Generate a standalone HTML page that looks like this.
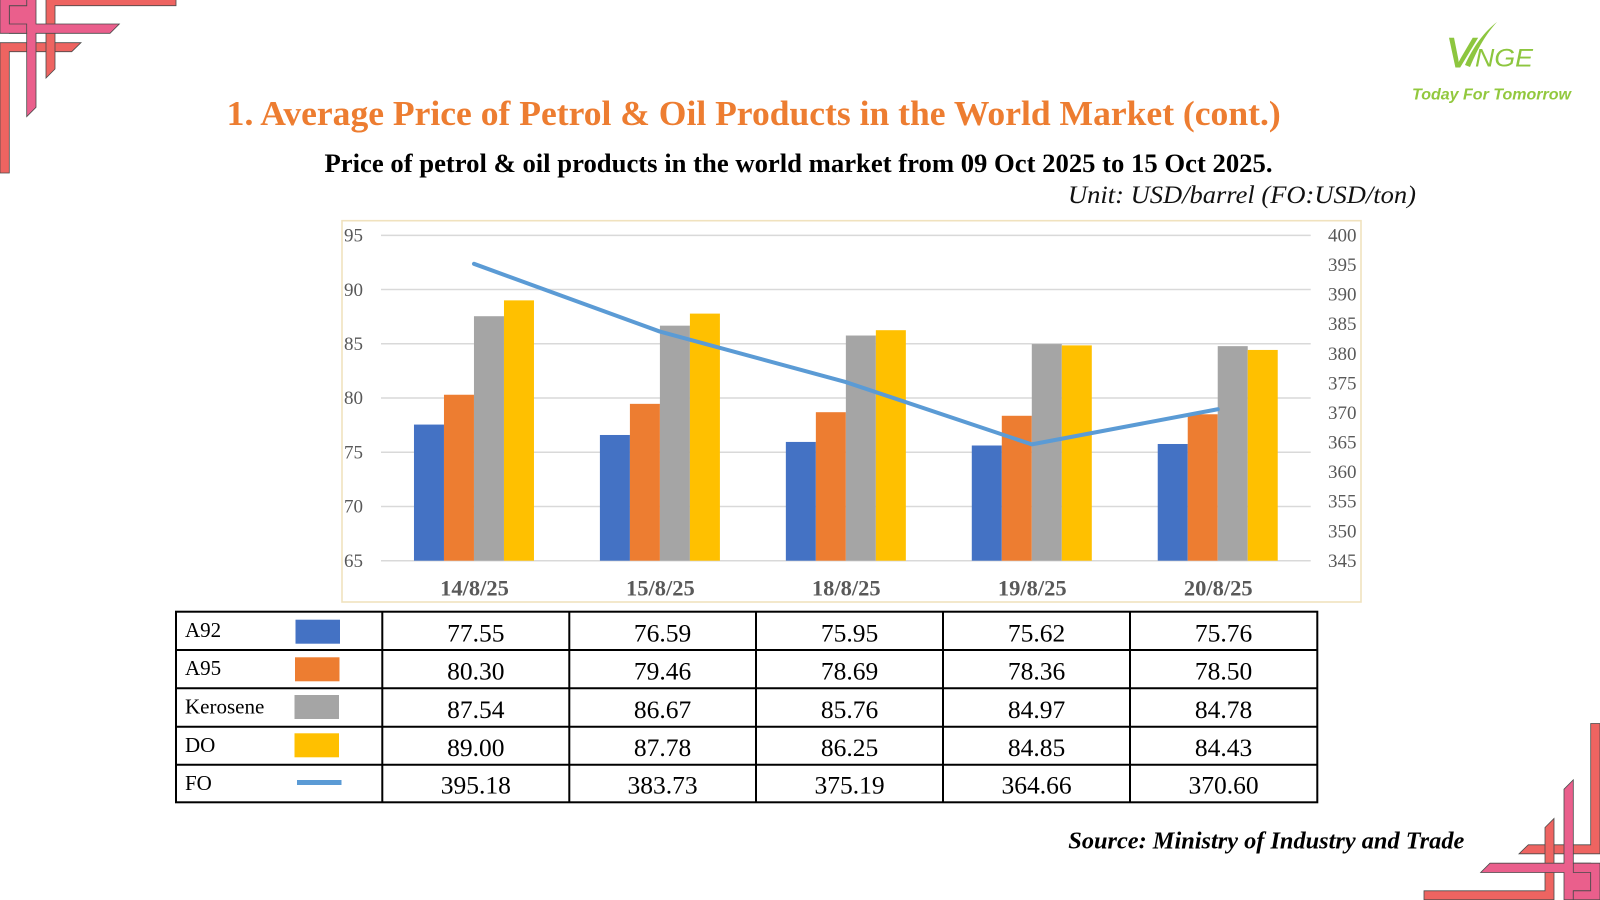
<!DOCTYPE html>
<html>
<head>
<meta charset="utf-8">
<style>
  html, body { margin: 0; padding: 0; background: #ffffff; }
  svg { display: block; }
</style>
</head>
<body>
<svg width="1600" height="900" viewBox="0 0 1600 900" xmlns="http://www.w3.org/2000/svg">
  <rect x="0" y="0" width="1600" height="900" fill="#ffffff"/>

  <!-- Corner ornament (top-left) -->
  <g id="corner" stroke="#4a4a4a" stroke-width="0.8" stroke-linejoin="miter">
    <polygon points="0,42.7 81,42.7 71.7,51.7 9.3,51.7 9.3,173 0,173" fill="#EE6461"/>
    <polygon points="46,-3.3 176,-3.3 176,5.7 55,5.7 55,69 46,78" fill="#EE6461"/>
    <polygon points="26.7,-3.3 36,-3.3 36,24 119.3,24 110,33.3 36,33.3 36,107.3 26.7,116.7 26.7,33.3 9.3,33.3 9.3,5.7 26.7,5.7 26.7,-3.3" fill="#EA5F8C"/>
    <polygon points="0,-3.3 26.7,-3.3 26.7,5.7 9.3,5.7 9.3,24 26.7,24 26.7,33.3 0,33.3" fill="#EA5F8C"/>
  </g>
  <!-- Corner ornament (bottom-right) -->
  <g transform="translate(1600,896.5) rotate(180)" stroke="#4a4a4a" stroke-width="0.8">
    <polygon points="0,42.7 81,42.7 71.7,51.7 9.3,51.7 9.3,173 0,173" fill="#EE6461"/>
    <polygon points="46,-3.3 176,-3.3 176,5.7 55,5.7 55,69 46,78" fill="#EE6461"/>
    <polygon points="26.7,-3.3 36,-3.3 36,24 119.3,24 110,33.3 36,33.3 36,107.3 26.7,116.7 26.7,33.3 9.3,33.3 9.3,5.7 26.7,5.7 26.7,-3.3" fill="#EA5F8C"/>
    <polygon points="0,-3.3 26.7,-3.3 26.7,5.7 9.3,5.7 9.3,24 26.7,24 26.7,33.3 0,33.3" fill="#EA5F8C"/>
  </g>

  <!-- Logo -->
  <path d="M1465,65 C1473,47 1484,32 1497,22 C1486,34 1478,48 1470,67 Z" fill="#8DC63F"/>
  <text x="1446" y="67" font-family="Liberation Sans, sans-serif" font-style="italic" font-size="42" fill="#8DC63F" stroke="#8DC63F" stroke-width="1">V</text>
  <text x="1475" y="66.5" font-family="Liberation Sans, sans-serif" font-style="italic" font-size="25" fill="#8DC63F" textLength="58" lengthAdjust="spacingAndGlyphs">NGE</text>
  <text x="1412" y="99.3" font-family="Liberation Sans, sans-serif" font-style="italic" font-weight="bold" font-size="15.5" fill="#92C83E" textLength="159" lengthAdjust="spacingAndGlyphs">Today For Tomorrow</text>

  <!-- Titles -->
  <text x="226.7" y="125" font-family="Liberation Serif, serif" font-weight="bold" font-size="35.3" fill="#ED7D31" textLength="1054" lengthAdjust="spacingAndGlyphs">1. Average Price of Petrol &amp; Oil Products in the World Market (cont.)</text>
  <text x="324.5" y="172" font-family="Liberation Serif, serif" font-weight="bold" font-size="26.6" fill="#000000" textLength="948" lengthAdjust="spacingAndGlyphs">Price of petrol &amp; oil products in the world market from 09 Oct 2025 to 15 Oct 2025.</text>
  <text x="1068" y="203" font-family="Liberation Serif, serif" font-style="italic" font-size="25" fill="#111111" textLength="348" lengthAdjust="spacingAndGlyphs">Unit: USD/barrel (FO:USD/ton)</text>

  <!-- Chart frame -->
  <rect x="342" y="220.7" width="1019" height="381.3" fill="#ffffff" stroke="#F0E2BE" stroke-width="1.6"/>

  <!-- Gridlines -->
  <g stroke="#D9D9D9" stroke-width="1.5">
    <line x1="381" y1="235.32" x2="1310.7" y2="235.32"/>
    <line x1="381" y1="289.55" x2="1310.7" y2="289.55"/>
    <line x1="381" y1="343.78" x2="1310.7" y2="343.78"/>
    <line x1="381" y1="398.01" x2="1310.7" y2="398.01"/>
    <line x1="381" y1="452.24" x2="1310.7" y2="452.24"/>
    <line x1="381" y1="506.47" x2="1310.7" y2="506.47"/>
    <line x1="381" y1="560.7" x2="1310.7" y2="560.7"/>
  </g>

  <!-- Left axis labels -->
  <g font-family="Liberation Serif, serif" font-size="19" fill="#595959">
    <text x="344" y="241.5">95</text>
    <text x="344" y="295.8">90</text>
    <text x="344" y="350">85</text>
    <text x="344" y="404.2">80</text>
    <text x="344" y="458.5">75</text>
    <text x="344" y="512.7">70</text>
    <text x="344" y="566.9">65</text>
  </g>

  <!-- Right axis labels -->
  <g font-family="Liberation Serif, serif" font-size="19" fill="#595959">
    <text x="1328" y="241.5">400</text>
    <text x="1328" y="271.1">395</text>
    <text x="1328" y="300.7">390</text>
    <text x="1328" y="330.2">385</text>
    <text x="1328" y="359.8">380</text>
    <text x="1328" y="389.4">375</text>
    <text x="1328" y="419">370</text>
    <text x="1328" y="448.6">365</text>
    <text x="1328" y="478.1">360</text>
    <text x="1328" y="507.7">355</text>
    <text x="1328" y="537.3">350</text>
    <text x="1328" y="566.9">345</text>
  </g>

  <!-- Bars -->
  <g>
    <rect x="413.97" y="424.57" width="30" height="136.13" fill="#4472C4"/>
    <rect x="443.97" y="394.74" width="30" height="165.96" fill="#ED7D31"/>
    <rect x="473.97" y="316.21" width="30" height="244.49" fill="#A5A5A5"/>
    <rect x="503.97" y="300.37" width="30" height="260.33" fill="#FFC000"/>

    <rect x="599.91" y="434.98" width="30" height="125.72" fill="#4472C4"/>
    <rect x="629.91" y="403.85" width="30" height="156.85" fill="#ED7D31"/>
    <rect x="659.91" y="325.65" width="30" height="235.05" fill="#A5A5A5"/>
    <rect x="689.91" y="313.61" width="30" height="247.09" fill="#FFC000"/>

    <rect x="785.85" y="441.93" width="30" height="118.77" fill="#4472C4"/>
    <rect x="815.85" y="412.20" width="30" height="148.50" fill="#ED7D31"/>
    <rect x="845.85" y="335.52" width="30" height="225.18" fill="#A5A5A5"/>
    <rect x="875.85" y="330.20" width="30" height="230.50" fill="#FFC000"/>

    <rect x="971.79" y="445.50" width="30" height="115.20" fill="#4472C4"/>
    <rect x="1001.79" y="415.78" width="30" height="144.92" fill="#ED7D31"/>
    <rect x="1031.79" y="344.09" width="30" height="216.61" fill="#A5A5A5"/>
    <rect x="1061.79" y="345.39" width="30" height="215.31" fill="#FFC000"/>

    <rect x="1157.73" y="443.99" width="30" height="116.71" fill="#4472C4"/>
    <rect x="1187.73" y="414.27" width="30" height="146.43" fill="#ED7D31"/>
    <rect x="1217.73" y="346.15" width="30" height="214.55" fill="#A5A5A5"/>
    <rect x="1247.73" y="349.94" width="30" height="210.76" fill="#FFC000"/>
  </g>

  <!-- FO line -->
  <polyline points="473.97,263.81 659.91,331.56 845.85,382.08 1031.79,444.38 1217.73,409.24" fill="none" stroke="#5B9BD5" stroke-width="4" stroke-linejoin="round" stroke-linecap="round"/>

  <!-- Category labels -->
  <g font-family="Liberation Serif, serif" font-weight="bold" font-size="22.5" fill="#595959" text-anchor="middle">
    <text x="474.5" y="595.5">14/8/25</text>
    <text x="660.4" y="595.5">15/8/25</text>
    <text x="846.3" y="595.5">18/8/25</text>
    <text x="1032.3" y="595.5">19/8/25</text>
    <text x="1218.2" y="595.5">20/8/25</text>
  </g>

  <!-- Data table -->
  <g stroke="#000000" stroke-width="2" fill="none">
    <rect x="176" y="611.7" width="1141.3" height="190.6"/>
    <line x1="176" y1="650" x2="1317.3" y2="650"/>
    <line x1="176" y1="688.3" x2="1317.3" y2="688.3"/>
    <line x1="176" y1="726.7" x2="1317.3" y2="726.7"/>
    <line x1="176" y1="764.7" x2="1317.3" y2="764.7"/>
    <line x1="382.3" y1="611.7" x2="382.3" y2="802.3"/>
    <line x1="569.3" y1="611.7" x2="569.3" y2="802.3"/>
    <line x1="756" y1="611.7" x2="756" y2="802.3"/>
    <line x1="943" y1="611.7" x2="943" y2="802.3"/>
    <line x1="1130" y1="611.7" x2="1130" y2="802.3"/>
  </g>

  <!-- Table legend labels -->
  <g font-family="Liberation Serif, serif" font-size="21" fill="#000000">
    <text x="185" y="637">A92</text>
    <text x="185" y="675.2">A95</text>
    <text x="185" y="713.5">Kerosene</text>
    <text x="185" y="751.9">DO</text>
    <text x="185" y="789.9">FO</text>
  </g>
  <!-- Table legend swatches -->
  <rect x="295.5" y="619.7" width="44.5" height="24" fill="#4472C4"/>
  <rect x="295" y="657.3" width="44.5" height="24" fill="#ED7D31"/>
  <rect x="294.5" y="695" width="44.5" height="24" fill="#A5A5A5"/>
  <rect x="294.5" y="733.3" width="44.5" height="24" fill="#FFC000"/>
  <rect x="297" y="780" width="44.5" height="5" fill="#5B9BD5"/>

  <!-- Table values -->
  <g font-family="Liberation Serif, serif" font-size="25.5" fill="#000000" text-anchor="middle">
    <text x="475.8" y="641.5">77.55</text>
    <text x="662.6" y="641.5">76.59</text>
    <text x="849.5" y="641.5">75.95</text>
    <text x="1036.5" y="641.5">75.62</text>
    <text x="1223.6" y="641.5">75.76</text>

    <text x="475.8" y="679.5">80.30</text>
    <text x="662.6" y="679.5">79.46</text>
    <text x="849.5" y="679.5">78.69</text>
    <text x="1036.5" y="679.5">78.36</text>
    <text x="1223.6" y="679.5">78.50</text>

    <text x="475.8" y="717.8">87.54</text>
    <text x="662.6" y="717.8">86.67</text>
    <text x="849.5" y="717.8">85.76</text>
    <text x="1036.5" y="717.8">84.97</text>
    <text x="1223.6" y="717.8">84.78</text>

    <text x="475.8" y="756">89.00</text>
    <text x="662.6" y="756">87.78</text>
    <text x="849.5" y="756">86.25</text>
    <text x="1036.5" y="756">84.85</text>
    <text x="1223.6" y="756">84.43</text>

    <text x="475.8" y="793.5">395.18</text>
    <text x="662.6" y="793.5">383.73</text>
    <text x="849.5" y="793.5">375.19</text>
    <text x="1036.5" y="793.5">364.66</text>
    <text x="1223.6" y="793.5">370.60</text>
  </g>

  <!-- Source -->
  <text x="1068.3" y="848.5" font-family="Liberation Serif, serif" font-style="italic" font-weight="bold" font-size="24.5" fill="#000000" textLength="396" lengthAdjust="spacingAndGlyphs">Source: Ministry of Industry and Trade</text>
</svg>
</body>
</html>
